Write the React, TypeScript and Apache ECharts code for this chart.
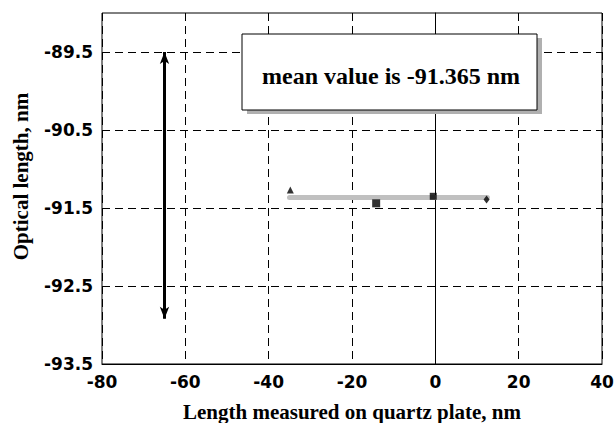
import React, { useEffect, useRef } from "react";
import * as echarts from "echarts";

const xTicks = [-80, -60, -40, -20, 0, 20, 40];
const yTickValues = [-93.5, -92.5, -91.5, -90.5, -89.5];
const yRange = [-93.5, -89.0];

const meanValue = -91.365;
const meanSpan = [-35, 12.5];

const trianglePoints = [[-34.8, -91.27]];
const squarePointsBig = [[-14.2, -91.44]];
const squarePointsSmall = [[-0.5, -91.35]];
const diamondPoints = [[12.3, -91.39]];

const arrowX = -65;
const arrowRange = [-89.5, -92.92];

const boxText = "mean value is -91.365 nm";
const xTitle = "Length measured on quartz plate, nm";
const yTitle = "Optical length, nm";

export default function App() {
  const ref = useRef<HTMLDivElement>(null);
  useEffect(() => {
    if (!ref.current) return;
    const chart = echarts.init(ref.current, null, { renderer: "svg" });
    const dash = { color: "#000", width: 1, type: [8, 5] as any };
    chart.setOption({
      animation: false,
      backgroundColor: "#fff",
      textStyle: { fontFamily: "DejaVu Sans", fontWeight: "bold" },
      grid: {
        left: 102,
        top: 13,
        right: 12,
        bottom: 59,
        show: true,
        borderColor: "#000",
        borderWidth: 1,
        backgroundColor: "transparent",
        outerBoundsMode: "none",
        containLabel: false,
      },
      xAxis: {
        type: "value",
        min: xTicks[0],
        max: xTicks[xTicks.length - 1],
        interval: 20,
        name: xTitle,
        nameLocation: "middle",
        nameGap: 37,
        nameTextStyle: {
          fontFamily: "Liberation Serif",
          fontWeight: "bold",
          fontSize: 21,
          color: "#000",
        },
        axisLine: { show: true, lineStyle: { color: "#000", width: 1 } },
        axisTick: { show: false },
        axisLabel: {
          show: true,
          fontFamily: "DejaVu Sans",
          fontWeight: 900,
          fontSize: 17,
          color: "#000",
          margin: 9,
        },
        splitLine: { show: true, lineStyle: dash },
      },
      yAxis: {
        type: "value",
        min: yRange[0],
        max: yRange[1],
        name: yTitle,
        nameLocation: "middle",
        nameGap: 71,
        nameTextStyle: {
          fontFamily: "Liberation Serif",
          fontWeight: "bold",
          fontSize: 21,
          color: "#000",
          padding: [0, 0, 0, 24],
        },
        axisLine: { show: true, lineStyle: { color: "#000", width: 1 } },
        axisTick: { show: false, customValues: yTickValues },
        axisLabel: {
          show: true,
          customValues: yTickValues,
          fontFamily: "DejaVu Sans",
          fontWeight: 900,
          fontSize: 17,
          color: "#000",
          margin: 9,
          verticalAlign: "middle",
          padding: [6, 0, 0, 0],
        },
        splitLine: { show: true, lineStyle: dash },
      },
      series: [
        {
          type: "line",
          data: [
            [meanSpan[0], meanValue],
            [meanSpan[1], meanValue],
          ],
          showSymbol: false,
          lineStyle: { color: "#c0c0c0", width: 5, cap: "round" },
          z: 2,
          markLine: {
            silent: true,
            symbol: ["arrow", "arrow"],
            symbolSize: [7, 12],
            label: { show: false },
            lineStyle: { color: "#000", width: 3, type: "solid" },
            data: [
              [
                { coord: [arrowX, arrowRange[0]] },
                { coord: [arrowX, arrowRange[1]] },
              ],
            ],
          },
        },
        {
          type: "scatter",
          data: trianglePoints,
          symbol: "triangle",
          symbolSize: 7,
          itemStyle: { color: "#000" },
          z: 3,
        },
        {
          type: "scatter",
          data: squarePointsBig,
          symbol: "rect",
          symbolSize: 8,
          itemStyle: { color: "#000" },
          z: 3,
        },
        {
          type: "scatter",
          data: squarePointsSmall,
          symbol: "rect",
          symbolSize: 7,
          itemStyle: { color: "#000" },
          z: 3,
        },
        {
          type: "scatter",
          data: diamondPoints,
          symbol: "diamond",
          symbolSize: [6, 8],
          itemStyle: { color: "#000" },
          z: 3,
        },
      ],
      graphic: [
        {
          type: "rect",
          shape: { x: 247, y: 38, width: 295, height: 76 },
          style: { fill: "#b0b0b0" },
          z: 10,
        },
        {
          type: "rect",
          shape: { x: 242, y: 34, width: 295, height: 76 },
          style: { fill: "#fff", stroke: "#000", lineWidth: 1 },
          z: 11,
        },
        {
          type: "text",
          x: 391,
          y: 76,
          style: {
            text: boxText,
            fontFamily: "Liberation Serif",
            fontWeight: "bold",
            fontSize: 24,
            fill: "#000",
            align: "center",
            verticalAlign: "middle",
          },
          z: 12,
        },
      ],
    });
    return () => chart.dispose();
  }, []);
  return (
    <div
      ref={ref}
      style={{ position: "absolute", left: 0, top: 0, width: 614, height: 423 }}
    />
  );
}
